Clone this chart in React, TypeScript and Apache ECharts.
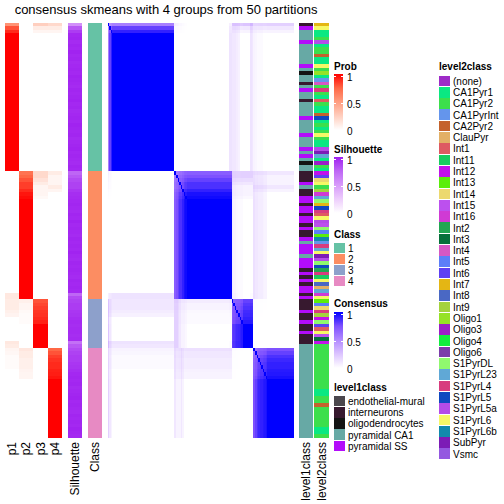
import { useEffect, useRef } from "react";
import * as echarts from "echarts";

const TITLE = "consensus skmeans with 4 groups from 50 partitions";
const PROB_LABELS = ["p1", "p2", "p3", "p4"];
const CLASS_LABELS = ["1", "2", "3", "4"];
const CLASS_COLORS = ["#66C2A5", "#FC8D62", "#8DA0CB", "#E78AC3"];

// membership probabilities per sample, in plot order (top to bottom)
const P1 = [
  0.55, 0.8, 0.9, 1, 1, 1, 1, 1, 1, 1, 1, 1, 1, 1, 1, 1, 1, 1, 1, 1, 1, 1, 1, 1, 1, 1, 1, 1, 1, 1, 1, 1, 1, 1, 1, 1, 1, 1, 1, 1, 1, 1, 1,
  0, 0, 0, 0, 0, 0, 0, 0, 0, 0, 0, 0, 0, 0, 0, 0, 0, 0, 0, 0, 0, 0, 0, 0, 0, 0, 0, 0, 0, 0, 0, 0, 0, 0, 0,
  0.12, 0.12, 0.1, 0.1, 0.1, 0.08, 0.06, 0, 0, 0, 0, 0, 0, 0,
  0.12, 0.1, 0.05, 0.04, 0.02, 0.02, 0.02, 0.02, 0, 0, 0, 0, 0, 0, 0, 0, 0, 0, 0, 0, 0, 0, 0, 0, 0, 0, 0, 0,
];
const P2 = [
  0, 0, 0, 0, 0, 0, 0, 0, 0, 0, 0, 0, 0, 0, 0, 0, 0, 0, 0, 0, 0, 0, 0, 0, 0, 0, 0, 0, 0, 0, 0, 0, 0, 0, 0, 0, 0, 0, 0, 0, 0, 0, 0,
  0.7, 0.75, 0.8, 0.85, 0.85, 0.9, 0.95, 0.97, 1, 1, 1, 1, 1, 1, 1, 1, 1, 1, 1, 1, 1, 1, 1, 1, 1, 1, 1, 1, 1, 1, 1, 1, 1, 1, 1, 1, 1,
  0.08, 0.05, 0.05, 0.03, 0.02, 0.02, 0.02, 0, 0, 0, 0, 0, 0, 0,
  0.13, 0.1, 0.1, 0.08, 0.08, 0.08, 0.06, 0.05, 0.05, 0, 0, 0, 0, 0, 0, 0, 0, 0, 0, 0, 0, 0, 0, 0, 0, 0, 0, 0,
];
const P3 = [
  0.25, 0.1, 0.05, 0, 0, 0, 0, 0, 0, 0, 0, 0, 0, 0, 0, 0, 0, 0, 0, 0, 0, 0, 0, 0, 0, 0, 0, 0, 0, 0, 0, 0, 0, 0, 0, 0, 0, 0, 0, 0, 0, 0, 0,
  0.2, 0.2, 0.15, 0.1, 0.05, 0.05, 0.05, 0.03, 0, 0, 0, 0, 0, 0, 0, 0, 0, 0, 0, 0, 0, 0, 0, 0, 0, 0, 0, 0, 0, 0, 0, 0, 0, 0, 0, 0, 0,
  0.8, 0.83, 0.85, 0.87, 0.88, 0.9, 0.92, 1, 1, 1, 1, 1, 1, 1,
  0, 0, 0, 0, 0, 0, 0, 0, 0, 0, 0, 0, 0, 0, 0, 0, 0, 0, 0, 0, 0, 0, 0, 0, 0, 0, 0, 0,
];
const P4 = [
  0.2, 0.1, 0.05, 0, 0, 0, 0, 0, 0, 0, 0, 0, 0, 0, 0, 0, 0, 0, 0, 0, 0, 0, 0, 0, 0, 0, 0, 0, 0, 0, 0, 0, 0, 0, 0, 0, 0, 0, 0, 0, 0, 0, 0,
  0.1, 0.05, 0.05, 0.05, 0.1, 0.05, 0, 0, 0, 0, 0, 0, 0, 0, 0, 0, 0, 0, 0, 0, 0, 0, 0, 0, 0, 0, 0, 0, 0, 0, 0, 0, 0, 0, 0, 0, 0,
  0, 0, 0, 0, 0, 0, 0, 0, 0, 0, 0, 0, 0, 0,
  0.75, 0.8, 0.85, 0.88, 0.9, 0.9, 0.92, 0.93, 0.95, 1, 1, 1, 1, 1, 1, 1, 1, 1, 1, 1, 1, 1, 1, 1, 1, 1, 1, 1,
];
const SILHOUETTE = [
  0.55, 0.8, 0.9, 0.97, 0.98, 0.96, 0.98, 0.97, 0.99, 0.97, 0.98, 0.96, 0.97, 0.98, 0.97, 0.99, 0.98, 0.97, 0.96, 0.98, 0.97, 0.98,
  0.99, 0.97, 0.98, 0.96, 0.97, 0.98, 0.97, 0.99, 0.98, 0.97, 0.98, 0.96, 0.97, 0.98, 0.99, 0.97, 0.98, 0.97, 0.96, 0.98, 0.97,
  0.75, 0.8, 0.85, 0.88, 0.88, 0.92, 0.95, 0.96, 0.97, 0.98, 0.97, 0.96, 0.98, 0.97, 0.99, 0.97, 0.98, 0.97, 0.96, 0.98, 0.97, 0.98,
  0.97, 0.99, 0.97, 0.96, 0.98, 0.97, 0.98, 0.97, 0.96, 0.98, 0.97, 0.98, 0.97,
  0.75, 0.85, 0.88, 0.9, 0.9, 0.92, 0.93, 0.95, 0.96, 0.95, 0.96, 0.96, 0.95, 0.96,
  0.7, 0.8, 0.85, 0.88, 0.9, 0.9, 0.92, 0.93, 0.95, 0.97, 0.98, 0.97, 0.98, 0.96, 0.97, 0.98, 0.99, 0.97, 0.98, 0.97, 0.96, 0.98,
  0.97, 0.98, 0.97, 0.99, 0.98, 0.97,
];

const LEVEL1_NAMES = ["endothelial-mural", "interneurons", "oligodendrocytes", "pyramidal CA1", "pyramidal SS"];
const LEVEL1_KEYS = ["E", "I", "O", "C", "S"];
const LEVEL1_COLORS = ["#4B474D", "#37192F", "#141414", "#67A9A5", "#B30CFA"];
// one letter per sample (key of LEVEL1_NAMES)
const LEVEL1 = (
  "ISCCCSCCCC" + "CCSCOCCICS" + "CCICCCCSCC" + "CCSCCCSCSC" + "OCC" +
  "IIISCIISSI" + "SSISSISIIS" + "CSSSCSSSIS" + "ISISS" +
  "ISIIISIISIISII" +
  "I" + "CCCCCCCCCC" + "CCCCCCCCCC" + "CCCCCCC"
).split("");

const LEVEL2_NAMES = [
  "(none)", "CA1Pyr1", "CA1Pyr2", "CA1PyrInt", "CA2Pyr2", "ClauPyr", "Int1", "Int11", "Int12", "Int13", "Int14", "Int15",
  "Int16", "Int2", "Int3", "Int4", "Int5", "Int6", "Int7", "Int8", "Int9", "Oligo1", "Oligo3", "Oligo4", "Oligo6",
  "S1PyrDL", "S1PyrL23", "S1PyrL4", "S1PyrL5", "S1PyrL5a", "S1PyrL6", "S1PyrL6b", "SubPyr", "Vsmc",
];
const LEVEL2_COLORS = [
  "#9E2BC8", "#0AE882", "#3CDF4C", "#6495EC", "#C4622C", "#E3B066", "#DE5A62", "#18CC60", "#C212EA", "#5AEE0A", "#ECD96E",
  "#BC50EE", "#D03AD4", "#22A652", "#06703A", "#D658C4", "#5C7EF8", "#5E40F2", "#E4B614", "#4A68C4", "#A4D23E", "#96E226",
  "#9C1EC8", "#12EE3E", "#7C3CAA", "#90F86E", "#60A8D6", "#D83C7E", "#1048C0", "#B44CE8", "#F6F866", "#128AAC", "#7C1CB6",
  "#9458E0",
];
const LEVEL2 = [
  "Int7", "S1PyrL6", "CA1Pyr1", "CA1Pyr1", "CA1Pyr2", "S1PyrL5a", "CA1Pyr1", "CA1Pyr2", "CA1Pyr2", "CA2Pyr2",
  "CA1Pyr1", "CA1Pyr1", "S1PyrL6", "CA1Pyr2", "Oligo1", "CA1Pyr1", "CA1PyrInt", "Int4", "CA1Pyr2", "S1PyrL4",
  "CA1Pyr2", "CA1Pyr1", "Int1", "CA1Pyr2", "CA1Pyr1", "CA1Pyr1", "CA2Pyr2", "S1PyrL5", "CA1Pyr1", "CA1Pyr2",
  "CA1Pyr1", "CA1Pyr2", "S1PyrL6", "CA1Pyr2", "CA1Pyr1", "CA1Pyr1", "S1PyrL5a", "SubPyr", "S1PyrL23", "CA1Pyr1",
  "Oligo3", "CA1Pyr2", "CA1Pyr1",
  "Int12", "Int6", "Int14", "S1PyrL6", "CA1Pyr2", "Int9", "Int16", "S1PyrL23", "S1PyrDL", "Int7",
  "S1PyrL5", "S1PyrL4", "Int1", "S1PyrL6", "S1PyrL5a", "Int15", "S1PyrDL", "Int5", "Int13", "S1PyrL6b",
  "CA1PyrInt", "S1PyrL4", "S1PyrL23", "S1PyrL6", "SubPyr", "S1PyrL5a", "S1PyrDL", "S1PyrL5", "Int2", "S1PyrL4",
  "Int11", "S1PyrL6", "Int8", "ClauPyr", "S1PyrL23",
  "Int16", "S1PyrL6", "Int13", "Int5", "Int14", "S1PyrL4", "Int9", "Int12", "S1PyrDL", "Int6", "Int1", "S1PyrL6", "Int15", "Int3",
  "Int12", "CA1Pyr2", "CA1Pyr2", "CA1Pyr2", "CA1Pyr2", "CA1Pyr2", "CA1Pyr2", "CA1Pyr2", "CA1Pyr2", "CA1Pyr2",
  "CA1Pyr2", "CA1Pyr2", "CA1Pyr2", "CA1Pyr2", "CA1Pyr1", "CA1Pyr1", "CA1Pyr2", "CA1Pyr2", "CA2Pyr2", "CA1Pyr2",
  "CA1Pyr2", "CA1Pyr2", "CA1Pyr2", "CA1Pyr2", "CA1Pyr2", "CA1Pyr1", "CA1Pyr1", "CA1Pyr2",
];

// colour ramps (white -> colour, sampled in LAB like ComplexHeatmap)
const PROB_RAMP = ["#FFFFFF", "#FFCFBF", "#FF9E81", "#FF6846", "#FF0000"];
const SIL_RAMP = ["#FFFFFF", "#EDCDFC", "#D79AFA", "#BE66F5", "#A020F0"];
const CONS_RAMP = ["#FFFFFF", "#DCC4FF", "#B38BFF", "#7E51FF", "#0000FF"];
const BAR_LABELS = ["1", "0.5", "0"];

const FONT = "'Liberation Sans', Arial, Helvetica, sans-serif";

function txt(x: number, y: number, text: string, size: number, bold = false, align = "left") {
  return {
    type: "text",
    x,
    y,
    silent: true,
    style: {
      text,
      fill: "#000",
      fontSize: size,
      fontWeight: bold ? "bold" : "normal",
      fontFamily: FONT,
      align,
      verticalAlign: "middle",
      textAlign: align,
      textVerticalAlign: "middle",
    },
  };
}

function colorBar(title: string, titleY: number, ramp: string[], top: number) {
  const els: any[] = [txt(334, titleY, title, 10, true)];
  const stops = ramp
    .slice()
    .reverse()
    .map((color, i) => ({ offset: i / (ramp.length - 1), color }));
  els.push({
    type: "rect",
    silent: true,
    shape: { x: 334, y: top, width: 9, height: 56 },
    style: { fill: { type: "linear", x: 0, y: 0, x2: 0, y2: 1, colorStops: stops } },
  });
  const ys = [top + 2.5, top + 29.5, top + 56.5];
  BAR_LABELS.forEach((lab, i) => {
    if (i < 2) {
      els.push({ type: "line", silent: true, shape: { x1: 334, y1: ys[i], x2: 336, y2: ys[i] }, style: { stroke: "#fff", lineWidth: 1 } });
      els.push({ type: "line", silent: true, shape: { x1: 341, y1: ys[i], x2: 343, y2: ys[i] }, style: { stroke: "#fff", lineWidth: 1 } });
    }
    els.push(txt(347, ys[i] + 0.5, lab, 10));
  });
  return els;
}

function discrete(title: string, x: number, titleY: number, top: number, step: number, names: string[], colors: string[]) {
  const els: any[] = [txt(x, titleY, title, 10, true)];
  names.forEach((n, i) => {
    const y = top + i * step;
    els.push({ type: "rect", silent: true, shape: { x, y, width: 10.5, height: step - 0.6 }, style: { fill: colors[i] } });
    els.push(txt(x + 14, y + step / 2, n, 10));
  });
  return els;
}

export default function App() {
  const ref = useRef<HTMLDivElement>(null);
  useEffect(() => {
    const chart = echarts.init(ref.current!, null, { renderer: "svg" });
    const probs = [P1, P2, P3, P4];
    const N = P1.length;
    const ids = Array.from({ length: N }, (_, i) => String(i));

    const probData: number[][] = [];
    probs.forEach((p, k) => p.forEach((v, i) => probData.push([k, i, v])));
    const silData = SILHOUETTE.map((v, i) => [0, i, v]);
    const cls = ids.map((_, i) => {
      let best = 0;
      for (let k = 1; k < probs.length; k++) if (probs[k][i] > probs[best][i]) best = k;
      return best;
    });
    const classData = cls.map((c, i) => [0, i, c]);
    // consensus of two samples = probability that they are put into the same class
    const consData: number[][] = [];
    for (let i = 0; i < N; i++) {
      for (let j = 0; j < N; j++) {
        let v = 0;
        if (i === j) v = 1;
        else for (let k = 0; k < probs.length; k++) v += probs[k][i] * probs[k][j];
        consData.push([j, i, Math.min(1, v)]);
      }
    }
    const l1Data = LEVEL1.map((c, i) => [0, i, LEVEL1_KEYS.indexOf(c)]);
    const l2Data = LEVEL2.map((n, i) => [0, i, LEVEL2_NAMES.indexOf(n)]);

    const layout = [
      { left: 5, width: 57 },
      { left: 68, width: 14 },
      { left: 88, width: 14 },
      { left: 108, width: 186 },
      { left: 299, width: 14 },
      { left: 314, width: 15 },
    ];
    const xCats = [PROB_LABELS, ["Silhouette"], ["Class"], ids, ["level1class"], ["level2class"]];
    const datas = [probData, silData, classData, consData, l1Data, l2Data];

    const graphic: any[] = [
      txt(166, 9.5, TITLE, 13, false, "center"),
      ...colorBar("Prob", 66, PROB_RAMP, 74),
      ...colorBar("Silhouette", 149, SIL_RAMP, 157),
      ...discrete("Class", 334, 234, 243, 11, CLASS_LABELS, CLASS_COLORS),
      ...colorBar("Consensus", 303, CONS_RAMP, 312),
      ...discrete("level1class", 334, 387, 395.5, 11.3, LEVEL1_NAMES, LEVEL1_COLORS),
      ...discrete("level2class", 439, 66, 75.5, 11.3, LEVEL2_NAMES, LEVEL2_COLORS),
    ];

    chart.setOption({
      animation: false,
      backgroundColor: "#fff",
      grid: layout.map((g) => ({
        ...g,
        top: 23,
        height: 415,
        show: false,
        containLabel: false,
        outerBoundsMode: "none",
      })),
      xAxis: xCats.map((cats, gi) => ({
        type: "category",
        gridIndex: gi,
        data: cats,
        position: "bottom",
        show: gi !== 3,
        axisLine: { show: false },
        axisTick: { show: false },
        splitLine: { show: false },
        axisLabel: { rotate: 90, margin: 4, fontSize: 12, color: "#000", fontFamily: FONT, interval: 0 },
      })),
      yAxis: xCats.map((_, gi) => ({
        type: "category",
        gridIndex: gi,
        data: ids,
        inverse: true,
        show: false,
      })),
      visualMap: [
        { type: "continuous", seriesIndex: 0, min: 0, max: 1, dimension: 2, show: false, inRange: { color: PROB_RAMP } },
        { type: "continuous", seriesIndex: 1, min: 0, max: 1, dimension: 2, show: false, inRange: { color: SIL_RAMP } },
        {
          type: "piecewise",
          seriesIndex: 2,
          dimension: 2,
          show: false,
          pieces: CLASS_COLORS.map((color, k) => ({ value: k, color })),
        },
        { type: "continuous", seriesIndex: 3, min: 0, max: 1, dimension: 2, show: false, inRange: { color: CONS_RAMP } },
        {
          type: "piecewise",
          seriesIndex: 4,
          dimension: 2,
          show: false,
          pieces: LEVEL1_COLORS.map((color, k) => ({ value: k, color })),
        },
        {
          type: "piecewise",
          seriesIndex: 5,
          dimension: 2,
          show: false,
          pieces: LEVEL2_COLORS.map((color, k) => ({ value: k, color })),
        },
      ],
      series: datas.map((data, gi) => ({
        type: "heatmap",
        xAxisIndex: gi,
        yAxisIndex: gi,
        data,
        progressive: 0,
        silent: true,
        emphasis: { disabled: true },
      })),
      graphic,
    });
    return () => chart.dispose();
  }, []);
  return (
    <>
      <style>{"#root svg path, #root svg rect{shape-rendering:crispEdges}"}</style>
      <div ref={ref} style={{ position: "fixed", left: 0, top: 0, width: 504, height: 504 }} />
    </>
  );
}
